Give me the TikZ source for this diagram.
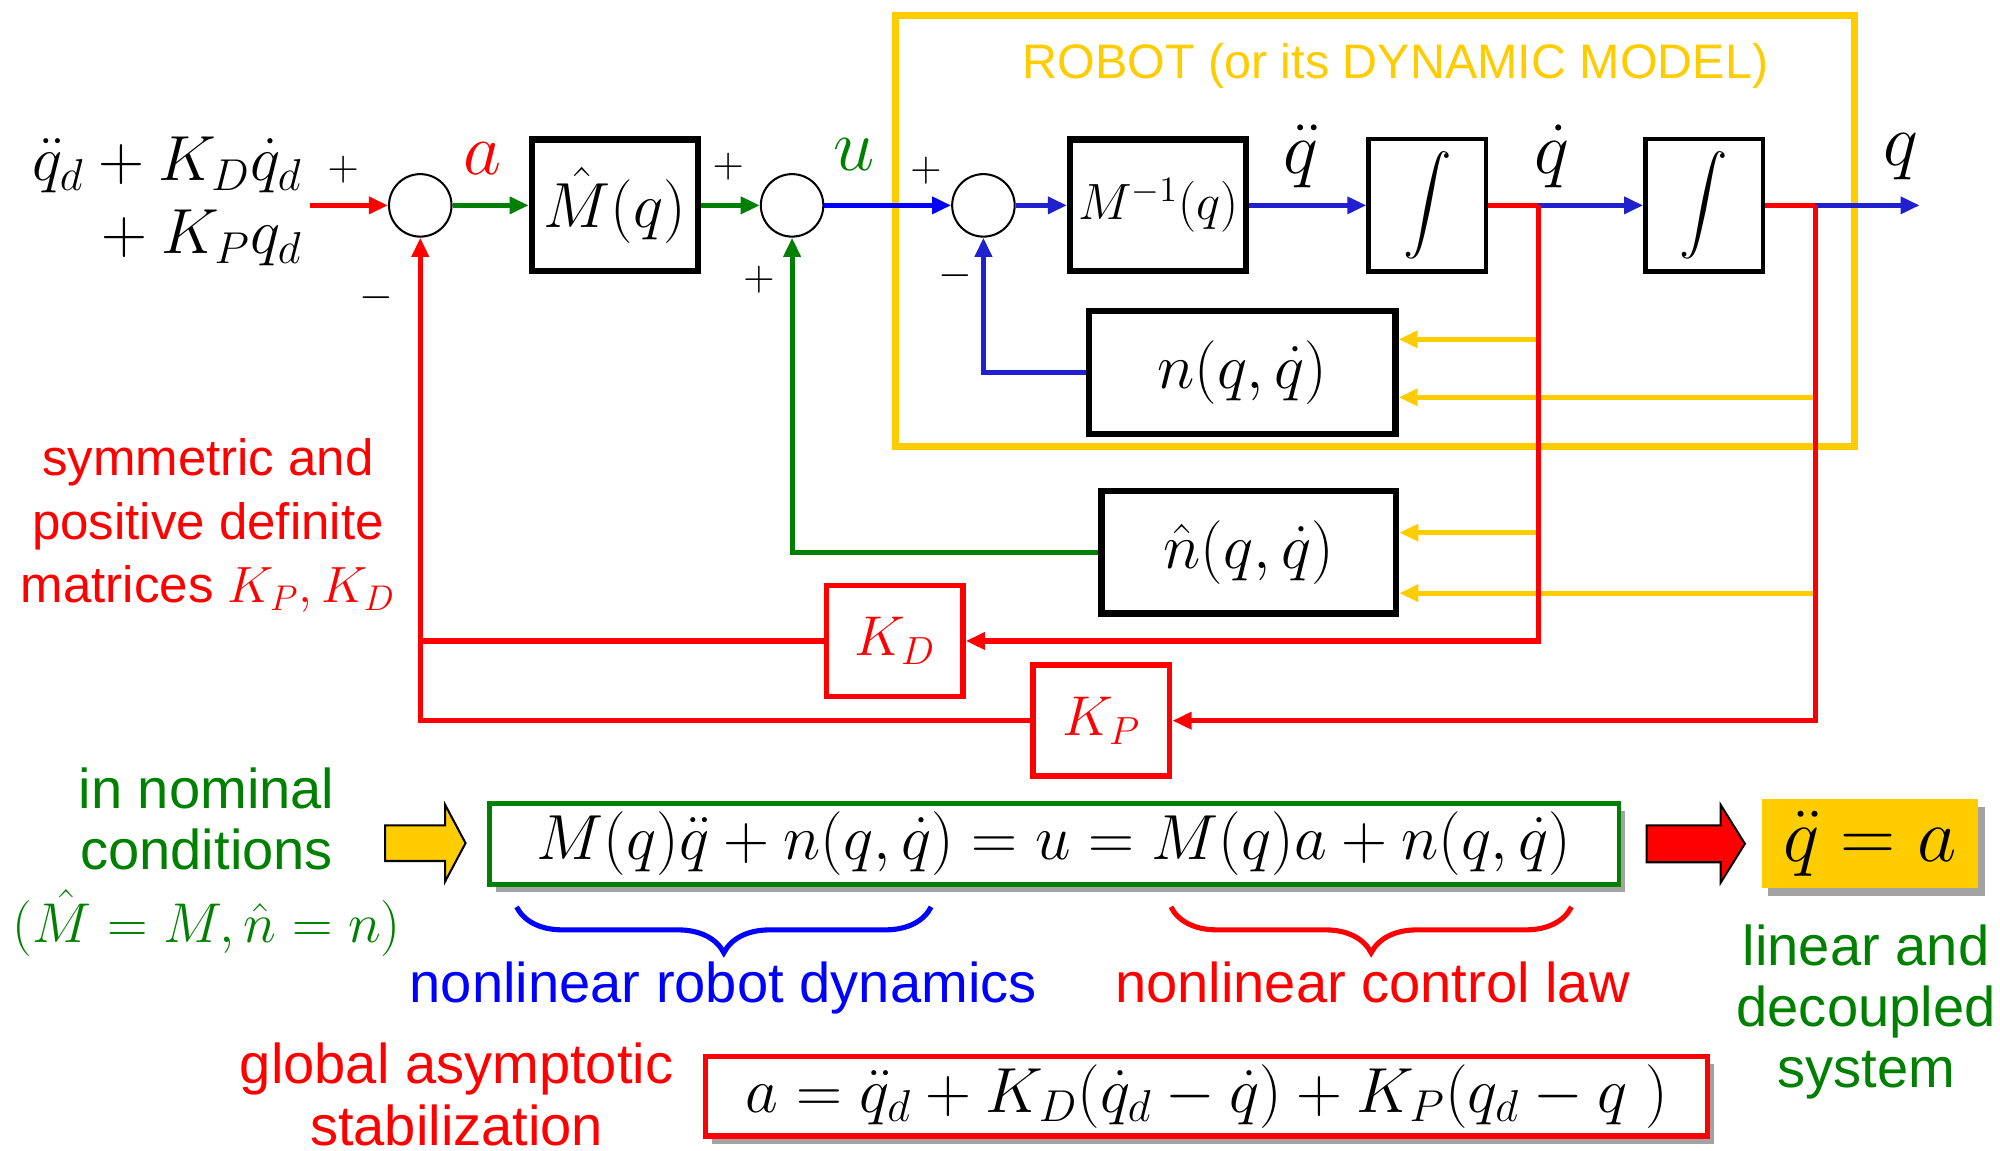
\documentclass[tikz,border=0pt]{standalone}
\usepackage{fix-cm}
\usepackage{amsmath,amssymb}
\usepackage[no-math]{fontspec}
\setmainfont{Liberation Sans}
\usepackage{xcolor}
\usepackage{tikz}
\usetikzlibrary{arrows.meta}
\usetikzlibrary{shadows}
\usetikzlibrary{decorations.pathreplacing}

\definecolor{ctrlred}{RGB}{255,0,0}
\definecolor{ctrlgreen}{RGB}{0,128,0}
\definecolor{ctrlblue}{RGB}{0,0,255}
\definecolor{robblue}{RGB}{32,32,208}
\definecolor{robyellow}{RGB}{255,204,0}

\begin{document}
\begin{tikzpicture}[x=0.5pt, y=-0.5pt,
  % blocks of the loop
  block/.style={draw=black, line width=2.5pt, fill=white, inner sep=0pt, minimum width=65pt, minimum height=51.5pt, font=\fontsize{25}{28}\selectfont},
  intblock/.style={block, line width=1.75pt, minimum width=46pt, minimum height=52pt, font=\fontsize{19}{22}\selectfont},
  gain/.style={draw=ctrlred, line width=2.2pt, text=ctrlred, fill=white, inner sep=0pt, minimum width=53.5pt, minimum height=43.5pt, font=\fontsize{22}{26}\selectfont},
  sum/.style={circle, draw=black, line width=0.8pt, fill=white, minimum size=24.5pt, inner sep=0pt},
  % signs and signal names
  sign/.style={font=\fontsize{17}{19}\selectfont, inner sep=0pt},
  sig_label/.style={font=\fontsize{29}{32}\selectfont, inner sep=0pt},
  % connectors
  wire/.style={line width=2pt},
  sig/.style={wire, -{Triangle[length=7.5pt, width=6.5pt]}},
  % comments around the scheme
  note/.style={align=center, font=\fontsize{20}{25}\selectfont, inner sep=0pt},
  bignote/.style={align=center, font=\fontsize{22}{24}\selectfont, inner sep=0pt},
  eqbox/.style={line width=2pt, fill=white, inner sep=0pt, font=\fontsize{25}{28}\selectfont, drop shadow={shadow xshift=2.5pt, shadow yshift=-3pt, opacity=0.6, fill=black!60}}
]

\useasboundingbox (0,0) rectangle (1568,902);

% robot frame
\node[draw=robyellow, line width=2.75pt, minimum width=376pt, minimum height=168.75pt, inner sep=0pt] (robot) at (1078,181) {};
\node[note, text=robyellow, font=\fontsize{19}{22}\selectfont] (robtitle) at (1094,52) {ROBOT (or its DYNAMIC MODEL)};

% main chain
\node[anchor=east, align=right, inner sep=0pt, font=\fontsize{25}{28.5}\selectfont] (qref) at (237,158) {$\ddot q_d + K_D\dot q_d$\\${}+K_P q_d$};
\node[sum] (s1) at (329.5,161) {};
\node[block] (Mhat) at (482,161) {$\hat{M}(q)$};
\node[sum] (s2) at (621,161) {};
\node[sum] (s3) at (771,161) {};
\node[block, minimum width=69pt, font=\fontsize{20}{24}\selectfont] (Minv) at (908,161) {$M^{-1}(q)$};
\node[intblock] (int1) at (1119,161) {$\displaystyle\int$};
\node[intblock] (int2) at (1336,161) {$\displaystyle\int$};
\node[block, minimum width=120pt, minimum height=48pt] (nfun) at (974,292) {$n(q,\dot q)$};
\node[block, minimum width=115.5pt, minimum height=48pt] (nhat) at (979,433) {$\hat{n}(q,\dot q)$};
\node[gain] (KD) at (701.5,502.5) {$K_D$};
\node[gain] (KP) at (863.5,565) {$K_P$};

\coordinate (refin) at (243,161);
\coordinate (qd_branch) at (1206,161);
\coordinate (q_branch) at (1423,161);
\coordinate (qout) at (1505,161);

% signs at the summing points
\node[sign] (p1) at (269,133) {$+$};
\node[sign] (m1) at (295,233) {$-$};
\node[sign] (p2) at (571,131) {$+$};
\node[sign] (p3) at (595,219.5) {$+$};
\node[sign] (p4) at (726,134) {$+$};
\node[sign] (m3) at (749,216) {$-$};

% signal names
\node[sig_label, text=ctrlred] (alab) at (378,124) {$a$};
\node[sig_label, text=ctrlgreen] (ulab) at (670,121) {$u$};
\node[sig_label] (qddlab) at (1020,122.5) {$\ddot q$};
\node[sig_label] (qdlab) at (1217,122.5) {$\dot q$};
\node[sig_label] (qlab) at (1490,123) {$q$};

% forward path
\draw[sig, ctrlred] (refin) -- (s1);
\draw[sig, ctrlgreen] (s1) -- (Mhat);
\draw[sig, ctrlgreen] (Mhat) -- (s2);
\draw[sig, ctrlblue] (s2) -- (s3);
\draw[sig, robblue] (s3) -- (Minv);
\draw[sig, robblue] (Minv) -- (int1);
\draw[wire, ctrlred] (int1) -- (qd_branch);
\draw[sig, robblue] (qd_branch) -- (int2);
\draw[wire, ctrlred] (int2) -- (q_branch);
\draw[sig, robblue] (q_branch) -- (qout);

% inner loops
\draw[sig, robblue] (nfun) -| (s3);
\draw[sig, ctrlgreen] (nhat) -| (s2);

% state taps (yellow) into n and its estimate
\coordinate (n_in1) at ([yshift=13pt]nfun.east);
\coordinate (n_in2) at ([yshift=-9.75pt]nfun.east);
\coordinate (nh_in1) at ([yshift=7.7pt]nhat.east);
\coordinate (nh_in2) at ([yshift=-16pt]nhat.east);
\draw[sig, robyellow] (qd_branch |- n_in1) -- (n_in1);
\draw[sig, robyellow] (q_branch |- n_in2) -- (n_in2);
\draw[sig, robyellow] (qd_branch |- nh_in1) -- (nh_in1);
\draw[sig, robyellow] (q_branch |- nh_in2) -- (nh_in2);

% outer PD loop
\draw[sig, ctrlred] (qd_branch) |- (KD);
\draw[sig, ctrlred] (q_branch) |- (KP);
\draw[sig, ctrlred] (KP) -| (s1);
\draw[wire, ctrlred] (KD) -- (KD -| s1);

\node[note, text=ctrlred] (kgains) at (163,412) {symmetric and\\positive definite\\matrices $K_P, K_D$};

% closed loop equations
\node[bignote, text=ctrlgreen] (nominal) at (162,676) {in nominal\\conditions\\[4.5pt]$(\hat{M} = M, \hat{n} = n)$};
\draw[line width=0.8pt, fill=robyellow] (302,647) -- (349,647) -- (349,631) -- (365,661) -- (349,691) -- (349,675) -- (302,675) -- cycle;
\node[eqbox, draw=ctrlgreen, line width=1.8pt, minimum width=442.7pt, minimum height=31.7pt] (dyn) at (826.5,661.5) {$M(q)\ddot q + n(q,\dot q) = u = M(q)a + n(q,\dot q)$};
\draw[line width=0.8pt, fill=ctrlred] (1291,647) -- (1349,647) -- (1349,631) -- (1368,661.5) -- (1349,692) -- (1349,676) -- (1291,676) -- cycle;
\node[eqbox, draw=none, fill=robyellow, minimum width=85pt, minimum height=35pt, font=\fontsize{30}{34}\selectfont] (res) at (1466,661.5) {$\ddot q = a$};

% braces under the equation
\coordinate (dynL) at (405,711);
\coordinate (dynR) at (730,711);
\coordinate (lawL) at (918,711);
\coordinate (lawR) at (1232,711);
\draw[ctrlblue, line width=2pt, decorate, decoration={brace, mirror, amplitude=18pt}] (dynL) -- (dynR);
\draw[ctrlred, line width=2pt, decorate, decoration={brace, mirror, amplitude=18pt}] (lawL) -- (lawR);
\node[bignote, text=ctrlblue, anchor=base] (dynlab) at (567,786) {nonlinear robot dynamics};
\node[bignote, text=ctrlred, anchor=base] (lawlab) at (1076,786) {nonlinear control law};
\node[bignote, text=ctrlgreen] (linlab) at (1463,793.5) {linear and\\decoupled\\system};

% control law
\node[bignote, text=ctrlred] (gas) at (358,858) {global asymptotic\\stabilization};
\node[eqbox, draw=ctrlred, line width=2.2pt, minimum width=392.8pt, minimum height=31.3pt] (law) at (946,859.5) {$a = \ddot q_d + K_D(\dot q_d - \dot q) + K_P(q_d - q\;)$};

\end{tikzpicture}
\end{document}
